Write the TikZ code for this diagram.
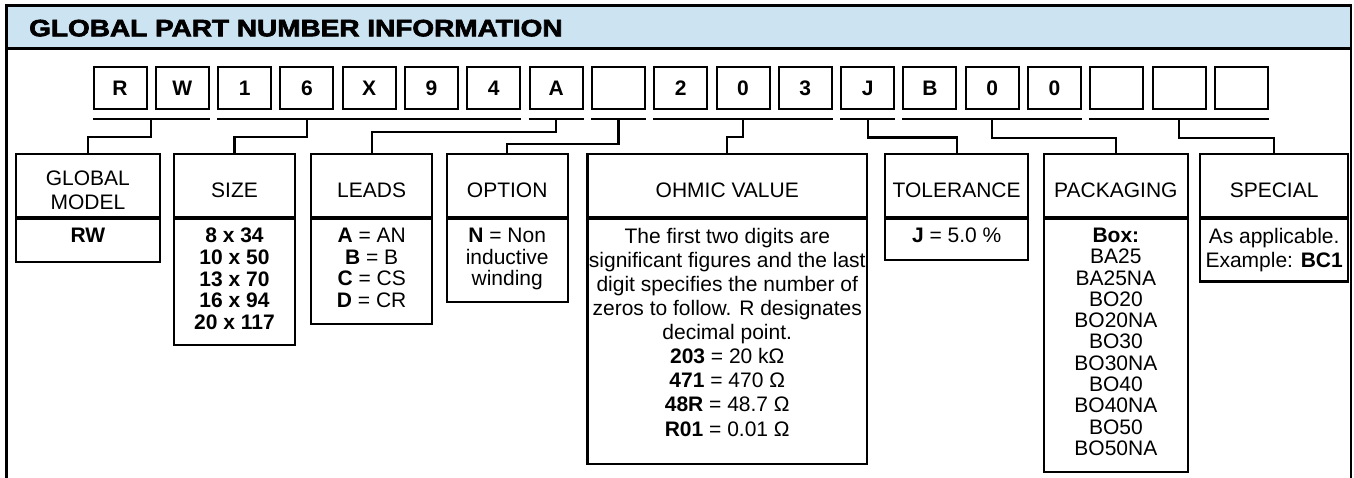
\documentclass[tikz,border=0pt]{standalone}
\usepackage{graphicx}
\usepackage{fontspec}
\setmainfont{Liberation Sans}
\newfontfamily\bannerfont{Liberation Sans Bold}[FakeBold=2.5]
\usetikzlibrary{positioning,calc}
\definecolor{headblue}{RGB}{204,228,242}
\newcommand\cellfont{\fontsize{21}{21.7}\selectfont}
\newcommand\widecellfont{\fontsize{21}{24.1}\selectfont}
\newcommand\digitfont{\fontsize{21}{24}\selectfont\bfseries}

\begin{document}
\begin{tikzpicture}[x=1pt,y=-1pt,
    charbox/.style={draw,line width=2pt,minimum width=53pt,minimum height=42.6pt,inner sep=0pt,font=\digitfont},
    titlebox/.style={draw,line width=2.2pt,minimum height=62.4pt,inner sep=0pt},
    listbox/.style={draw,line width=2.2pt,inner sep=0pt,anchor=north},
    celltext/.style={inner sep=0pt,align=center,font=\cellfont},
    link/.style={line width=2.2pt}]
  \useasboundingbox (0,0) rectangle (1354,478);
  % banner and frame
  \fill[headblue] (6.5,5.5) rectangle (1351,48.3);
  \draw[line width=2.3pt] (6.5,478) -- (6.5,5.5) -- (1351,5.5) -- (1351,478);
  \draw[line width=2.6pt] (6.5,48.3) -- (1351,48.3);
  \node[anchor=base west,inner sep=0pt,font=\bannerfont\fontsize{23.7}{26}\selectfont] (banner)
    at (29,36.3) {\scalebox{1.18}[1]{GLOBAL PART NUMBER INFORMATION}};
  % part number characters
  \draw
    (120,88) node[charbox] (c1) {R}
    (182.3,88) node[charbox] (c2) {W}
    (244.6,88) node[charbox] (c3) {1}
    (306.9,88) node[charbox] (c4) {6}
    (369.2,88) node[charbox] (c5) {X}
    (431.5,88) node[charbox] (c6) {9}
    (493.8,88) node[charbox] (c7) {4}
    (556.1,88) node[charbox] (c8) {A}
    (618.4,88) node[charbox] (c9) {}
    (680.7,88) node[charbox] (c10) {2}
    (743,88) node[charbox] (c11) {0}
    (805.3,88) node[charbox] (c12) {3}
    (867.6,88) node[charbox] (c13) {J}
    (929.9,88) node[charbox] (c14) {B}
    (992.2,88) node[charbox] (c15) {0}
    (1054.5,88) node[charbox] (c16) {0}
    (1116.8,88) node[charbox] (c17) {}
    (1179.1,88) node[charbox] (c18) {}
    (1241.4,88) node[charbox] (c19) {};
  % field boxes
  \draw
    (87.85,185.5) node[titlebox,minimum width=144.3pt] (gm) {}
    (234.5,185.5) node[titlebox,minimum width=121pt] (size) {}
    (371.65,185.5) node[titlebox,minimum width=121.3pt] (leads) {}
    (507.2,185.5) node[titlebox,minimum width=121pt] (option) {}
    (727.25,185.5) node[titlebox,minimum width=279.5pt] (ohmic) {}
    (956.65,185.5) node[titlebox,minimum width=143.3pt] (tol) {}
    (1115.85,185.5) node[titlebox,minimum width=143.7pt] (pack) {}
    (1274.15,185.5) node[titlebox,minimum width=148.3pt] (special) {};
  \node[listbox,minimum width=144.3pt,minimum height=43.3pt] (gmb) at (gm.south) {};
  \node[listbox,minimum width=121pt,minimum height=126pt] (sizeb) at (size.south) {};
  \node[listbox,minimum width=121.3pt,minimum height=105pt] (leadsb) at (leads.south) {};
  \node[listbox,minimum width=121pt,minimum height=83.3pt] (optionb) at (option.south) {};
  \node[listbox,minimum width=279.5pt,minimum height=245pt] (ohmicb) at (ohmic.south) {};
  \node[listbox,minimum width=143.3pt,minimum height=41pt] (tolb) at (tol.south) {};
  \node[listbox,minimum width=143.7pt,minimum height=253.3pt] (packb) at (pack.south) {};
  \node[listbox,minimum width=148.3pt,minimum height=62.6pt] (specialb) at (special.south) {};
  % titles
  \node[celltext,font=\widecellfont] at ([yshift=-5pt]gm.center) {GLOBAL\\MODEL};
  \node[celltext] at ([yshift=-5pt]size.center) {SIZE};
  \node[celltext] at ([yshift=-5pt]leads.center) {LEADS};
  \node[celltext] at ([yshift=-5pt]option.center) {OPTION};
  \node[celltext] at ([yshift=-5pt]ohmic.center) {OHMIC VALUE};
  \node[celltext] at ([yshift=-5pt]tol.center) {TOLERANCE};
  \node[celltext] at ([yshift=-5pt]pack.center) {PACKAGING};
  \node[celltext] at ([yshift=-5pt]special.center) {SPECIAL};
  % contents
  \node[celltext,anchor=north] at ([yshift=-10pt]gmb.north) {\textbf{RW}};
  \node[celltext,anchor=north] at ([yshift=-10pt]sizeb.north)
    {\textbf{8 x 34}\\\textbf{10 x 50}\\\textbf{13 x 70}\\\textbf{16 x 94}\\\textbf{20 x 117}};
  \node[celltext,anchor=north] at ([yshift=-10pt]leadsb.north)
    {\textbf{A} = AN\\\textbf{B} = B\\\textbf{C} = CS\\\textbf{D} = CR};
  \node[celltext,anchor=north] at ([yshift=-10pt]optionb.north)
    {\textbf{N} = Non\\inductive\\winding};
  \node[celltext,font=\widecellfont,anchor=north] at ([yshift=-10pt]ohmicb.north)
    {The first two digits are\\significant figures and the last\\digit specifies the number of\\zeros to follow. R designates\\decimal point.\\
     \textbf{203} = 20 kΩ\\\textbf{471} = 470 Ω\\\textbf{48R} = 48.7 Ω\\\textbf{R01} = 0.01 Ω};
  \node[celltext,anchor=north] at ([yshift=-10pt]tolb.north) {\textbf{J} = 5.0 \%};
  \node[celltext,font=\fontsize{21}{21.3}\selectfont,anchor=north] at ([yshift=-10pt]packb.north)
    {\textbf{Box:}\\BA25\\BA25NA\\BO20\\BO20NA\\BO30\\BO30NA\\BO40\\BO40NA\\BO50\\BO50NA};
  \node[celltext,font=\widecellfont,anchor=north] at ([yshift=-10pt]specialb.north)
    {As applicable.\\Example: \textbf{BC1}};
  % tick points under the groups
  \coordinate (t1) at ($(c1.south)!.5!(c2.south)+(0,9)$);
  \coordinate (t2) at ([yshift=-9pt]c4.south);
  \coordinate (t3) at ([yshift=-9pt]c8.south);
  \coordinate (t4) at ([yshift=-9pt]c9.south);
  \coordinate (t5) at ([yshift=-9pt]c11.south);
  \coordinate (t6) at ([yshift=-9pt]c13.south);
  \coordinate (t7) at ([yshift=-9pt]c15.south);
  \coordinate (t8) at ([yshift=-9pt]c18.south);
  \begin{scope}[link]
    \draw ([yshift=-9pt]c1.south west) -- ([yshift=-9pt]c2.south east);
    \draw ([yshift=-9pt]c3.south west) -- ([yshift=-9pt]c7.south east);
    \draw ([yshift=-9pt]c8.south west) -- ([yshift=-9pt]c8.south east);
    \draw ([yshift=-9pt]c9.south west) -- ([yshift=-9pt]c9.south east);
    \draw ([yshift=-9pt]c10.south west) -- ([yshift=-9pt]c12.south east);
    \draw ([yshift=-9pt]c13.south west) -- ([yshift=-9pt]c13.south east);
    \draw ([yshift=-9pt]c14.south west) -- ([yshift=-9pt]c16.south east);
    \draw ([yshift=-9pt]c17.south west) -- ([yshift=-9pt]c19.south east);
    \draw (t1) -- ++(0,17.7) -| (gm.north);
    \draw (t2) -- ++(0,17.4) -| (size.north);
    \draw (t3) -- ++(0,12.7) -| (leads.north);
    \draw (t4) -- ++(0,25) -| (option.north);
    \draw (t5) -- ++(0,17.7) -| (ohmic.north);
    \draw (t6) -- ++(0,18.2) -| (tol.north);
    \draw (t7) -- ++(0,18.4) -| (pack.north);
    \draw (t8) -- ++(0,18.4) -| (special.north);
  \end{scope}
\end{tikzpicture}
\end{document}
